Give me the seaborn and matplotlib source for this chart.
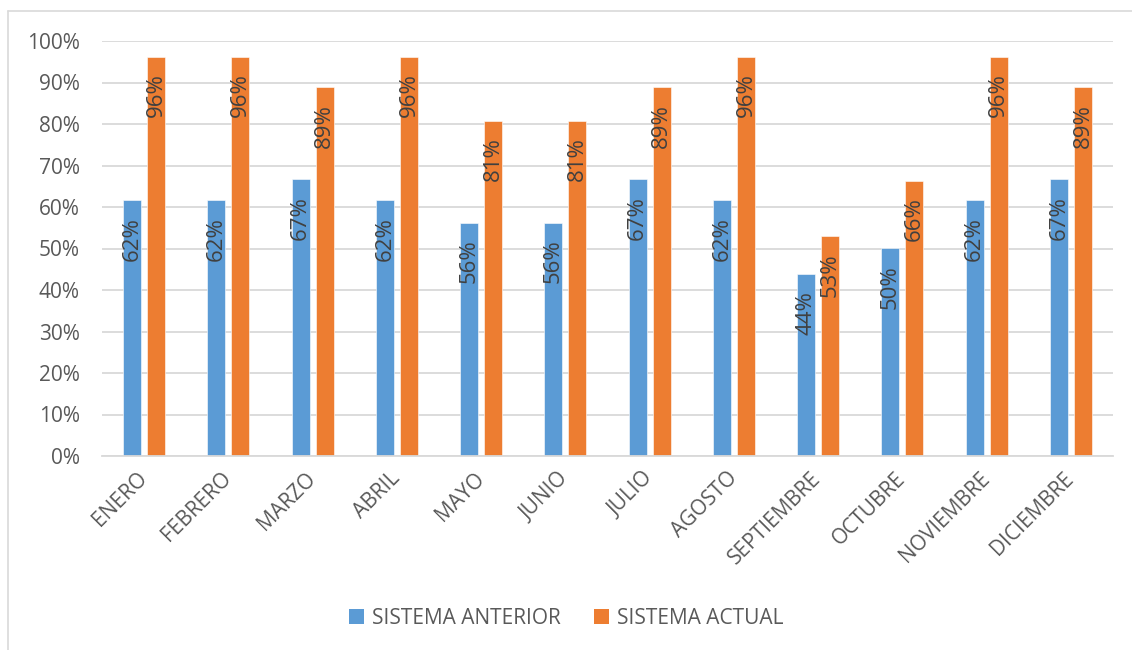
import matplotlib
matplotlib.use("Agg")
import matplotlib.pyplot as plt
from matplotlib.lines import Line2D
from matplotlib.patches import Patch
import pandas as pd
import seaborn as sns

# datos
meses = ['ENERO', 'FEBRERO', 'MARZO', 'ABRIL', 'MAYO', 'JUNIO', 'JULIO',
         'AGOSTO', 'SEPTIEMBRE', 'OCTUBRE', 'NOVIEMBRE', 'DICIEMBRE']
sistema_anterior = [0.616, 0.616, 0.667, 0.616, 0.562, 0.562, 0.667,
                    0.616, 0.438, 0.501, 0.616, 0.667]
sistema_actual = [0.962, 0.962, 0.889, 0.962, 0.808, 0.808, 0.889,
                  0.962, 0.529, 0.663, 0.962, 0.889]
series = ['SISTEMA ANTERIOR', 'SISTEMA ACTUAL']
colores = ['#5B9BD5', '#ED7D31']

df = pd.DataFrame({
    'mes': meses * 2,
    'valor': sistema_anterior + sistema_actual,
    'sistema': [series[0]] * len(meses) + [series[1]] * len(meses),
})

sns.set_theme(style='white')
plt.rcParams['font.family'] = ['Open Sans', 'DejaVu Sans']

gris_texto = '#595959'
gris_linea = '#D9D9D9'

fig = plt.figure(figsize=(11.32, 6.5), dpi=100)
ax = fig.add_axes([102 / 1132, 1 - 456 / 650, (1113 - 102) / 1132, (456 - 41) / 650])

sns.barplot(data=df, x='mes', y='valor', hue='sistema', palette=colores,
            saturation=1, width=0.57, gap=0.25, ax=ax, legend=False,
            edgecolor='white', linewidth=0.4)

ax.set_ylim(0, 1)
ax.set_xlim(-0.5, len(meses) - 0.5)
ax.set_yticks([i / 10 for i in range(11)])
ax.set_yticklabels([f'{i * 10}%' for i in range(11)], fontsize=15, color=gris_texto)
ax.tick_params(axis='y', length=0, pad=16)
ax.tick_params(axis='x', length=0, pad=14)
ax.set_xticks(range(len(meses)))
ax.set_xticklabels(meses, rotation=45, ha='right', va='center',
                   rotation_mode='anchor', fontsize=15, color=gris_texto)
ax.set_xlabel('')
ax.set_ylabel('')
ax.yaxis.grid(True, color=gris_linea, linewidth=1.3)
ax.set_axisbelow(True)
for lado in ['top', 'right', 'left']:
    ax.spines[lado].set_visible(False)
ax.spines['bottom'].set_color(gris_linea)
ax.spines['bottom'].set_linewidth(1.3)

# etiquetas de valor dentro de la barra, giradas
for cont in ax.containers:
    for barra in cont:
        h = barra.get_height()
        ax.annotate(f'{h * 100:.0f}%', (barra.get_x() + barra.get_width() / 2, h),
                    xytext=(0, -12), textcoords='offset points',
                    ha='center', va='top', rotation=90,
                    fontsize=16, color='#404040')

# leyenda
handles = [Patch(facecolor=c, edgecolor='none') for c in colores]
fig.legend(handles, series, loc='center', bbox_to_anchor=(0.5, 1 - 618 / 650),
           ncol=2, frameon=False, fontsize=15, handlelength=0.75, handleheight=0.75,
           handletextpad=0.35, columnspacing=1.6, labelcolor=gris_texto)

# borde del área del gráfico
fig.add_artist(Line2D([8 / 1132, 1], [1 - 11 / 650, 1 - 11 / 650],
                      color=gris_linea, linewidth=1.2, transform=fig.transFigure))
fig.add_artist(Line2D([8 / 1132, 8 / 1132], [0, 1 - 11 / 650],
                      color=gris_linea, linewidth=1.2, transform=fig.transFigure))

fig.savefig('out.png', dpi=100, facecolor='white')
